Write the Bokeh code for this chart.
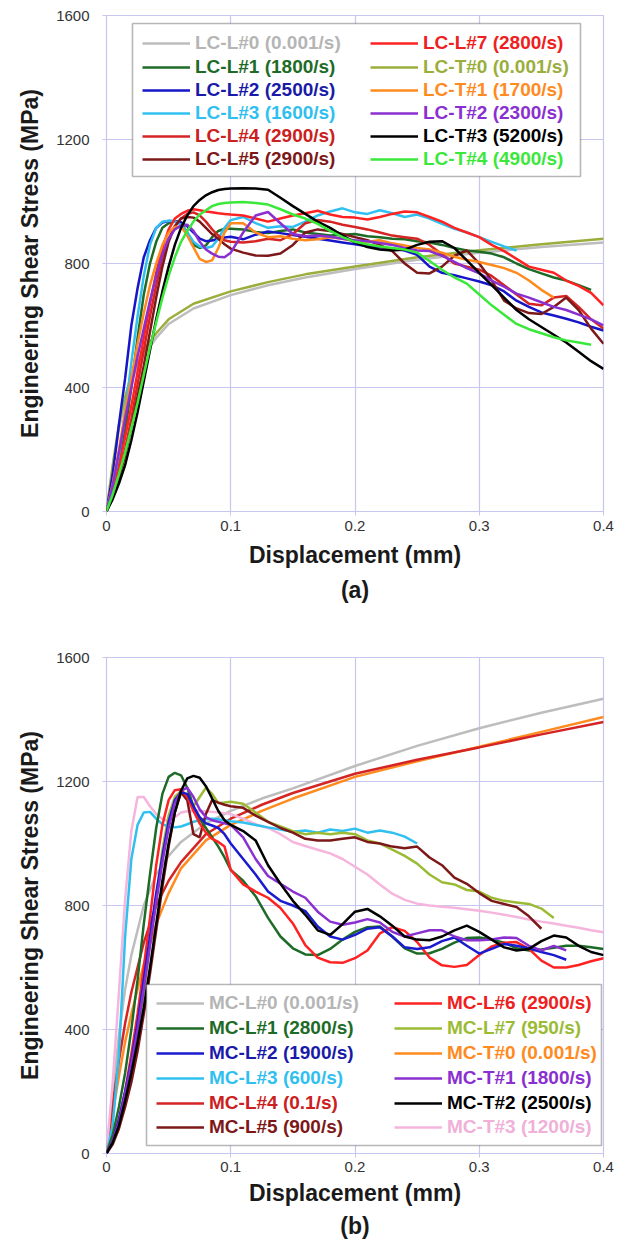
from bokeh.plotting import figure
from bokeh.layouts import column
from bokeh.models import (FixedTicker, NumeralTickFormatter, Legend, LegendItem,
                          BoxAnnotation, Title, Range1d)
from bokeh.embed import file_html
from bokeh.resources import INLINE

FONT = "Liberation Sans"

# ---------------- data ----------------
# shared displacement grid of the dynamic curves (mm)
X_DYN = [0, 0.005, 0.01, 0.015, 0.02, 0.025, 0.03, 0.035, 0.04, 0.045, 0.05, 0.055, 0.06,
         0.065, 0.07, 0.075, 0.08, 0.085, 0.09, 0.095, 0.1, 0.11, 0.12, 0.13, 0.14, 0.15,
         0.16, 0.17, 0.18, 0.19, 0.2, 0.21, 0.22, 0.23, 0.24, 0.25, 0.26, 0.27, 0.28, 0.29,
         0.3, 0.31, 0.32, 0.33, 0.34, 0.35, 0.36, 0.37, 0.38, 0.39, 0.4]
# quasi-static grids
X_QS_A = [0, 0.005, 0.01, 0.015, 0.02, 0.03, 0.04, 0.05, 0.07, 0.1, 0.13, 0.16, 0.2, 0.25, 0.3, 0.35, 0.4]
X_QS_B = [0, 0.005, 0.01, 0.015, 0.02, 0.03, 0.04, 0.05, 0.06, 0.08, 0.1, 0.125, 0.15, 0.2, 0.25, 0.3, 0.35, 0.4]

# (a) LC specimens, engineering shear stress (MPa)
LC_L0 = [0, 140, 265, 355, 425, 505, 560, 605, 655, 698, 730, 755, 782, 812, 835, 853, 868]
LC_T0 = [0, 150, 280, 370, 440, 520, 575, 620, 670, 710, 740, 765, 790, 820, 843, 862, 880]
LC_L1 = [0, 70, 160, 260, 400, 560, 700, 800, 870, 915, 930, 937, 930, 900, 860, 850, 858, 885, 905, 912, 912,
         910, 902, 898, 905, 910, 900, 895, 890, 893, 895, 888, 885, 880, 878, 872, 868, 860, 850, 842,
         838, 832, 820, 800, 782, 768, 755, 745, 730, 715]
LC_L2 = [0, 120, 280, 430, 600, 720, 820, 875, 915, 932, 937, 936, 933, 920, 900, 880, 872, 874, 880, 884, 886,
         878, 893, 903, 898, 892, 886, 880, 874, 868, 862, 856, 852, 848, 842, 828, 790, 770, 762, 752,
         742, 730, 710, 680, 660, 642, 632, 622, 610, 596, 584]
LC_L3 = [0, 80, 180, 320, 480, 630, 760, 860, 915, 935, 938, 936, 925, 900, 870, 855, 850, 855, 880, 915, 940,
         950, 930, 915, 920, 918, 935, 955, 968, 978, 965, 960, 972, 962, 950, 958, 945, 928, 912, 900,
         885, 870, 855, 842]
LC_L4 = [0, 50, 120, 200, 300, 410, 520, 630, 730, 820, 880, 920, 945, 960, 965, 955, 935, 910, 890, 875, 870,
         868, 872, 880, 875, 895, 930, 940, 935, 925, 918, 910, 900, 890, 885, 880, 860, 830, 800, 790,
         780, 760, 730, 700, 670, 665, 690, 695, 660, 620, 590]
LC_L5 = [0, 45, 110, 180, 270, 370, 470, 580, 690, 790, 870, 920, 945, 950, 948, 935, 915, 895, 880, 862, 848,
         835, 826, 825, 832, 860, 900, 910, 905, 895, 885, 875, 860, 840, 800, 770, 768, 790, 825, 842,
         800, 745, 680, 655, 640, 637, 660, 690, 650, 590, 541]
LC_L7 = [0, 60, 140, 240, 340, 450, 560, 670, 770, 850, 910, 945, 960, 970, 975, 972, 968, 965, 962, 960, 958,
         955, 945, 935, 945, 955, 962, 970, 958, 950, 948, 942, 950, 960, 968, 965, 950, 935, 915, 900,
         885, 860, 840, 815, 790, 780, 770, 745, 728, 705, 665]
LC_T1 = [0, 90, 200, 320, 430, 540, 640, 730, 800, 860, 900, 918, 920, 890, 852, 815, 805, 810, 850, 900, 930,
         930, 900, 885, 888, 880, 875, 878, 885, 880, 872, 870, 875, 865, 858, 850, 845, 835, 822, 812,
         805, 795, 785, 770, 745, 715, 690]
LC_T2 = [0, 85, 190, 300, 400, 500, 590, 680, 760, 830, 880, 910, 922, 925, 905, 870, 845, 832, 822, 820, 835,
         900, 955, 966, 930, 895, 888, 890, 886, 880, 875, 872, 866, 860, 850, 842, 840, 825, 805, 785,
         768, 745, 725, 703, 690, 675, 660, 650, 635, 620, 600]
LC_T3 = [0, 40, 90, 150, 230, 320, 420, 520, 620, 710, 790, 860, 915, 955, 985, 1005, 1020, 1030, 1037, 1040, 1042,
         1043, 1042, 1038, 1012, 985, 960, 935, 915, 890, 868, 853, 845, 842, 845, 860, 870, 872, 850, 810,
         770, 730, 690, 650, 620, 595, 570, 545, 515, 485, 460]
LC_T4 = [0, 55, 120, 190, 270, 350, 440, 530, 610, 690, 760, 820, 870, 905, 935, 958, 972, 985, 992, 995, 997,
         998, 995, 990, 975, 958, 945, 928, 905, 885, 870, 862, 855, 850, 845, 835, 808, 780, 755, 735,
         700, 665, 635, 605, 588, 575, 562, 552, 545, 538]

# (b) MC specimens, engineering shear stress (MPa)
MC_L0 = [0, 200, 380, 530, 640, 800, 900, 960, 1005, 1065, 1105, 1145, 1178, 1250, 1315, 1372, 1422, 1467]
MC_L4 = [0, 160, 300, 420, 520, 680, 800, 880, 940, 1030, 1080, 1125, 1163, 1225, 1270, 1310, 1352, 1392]
MC_T0 = [0, 130, 250, 360, 450, 610, 740, 840, 920, 1010, 1060, 1105, 1145, 1215, 1265, 1312, 1360, 1408]
MC_L1 = [0, 60, 150, 260, 400, 560, 740, 900, 1050, 1160, 1215, 1228, 1220, 1180, 1120, 1080, 1050, 1020, 990, 955, 915,
         880, 830, 760, 700, 662, 642, 640, 660, 690, 715, 730, 732, 700, 662, 645, 646, 660, 680, 695,
         697, 690, 680, 662, 655, 658, 664, 670, 670, 665, 660]
MC_L2 = [0, 40, 110, 200, 300, 420, 560, 700, 840, 960, 1070, 1140, 1165, 1160, 1120, 1085, 1065, 1058, 1050, 1030, 1000,
         950, 900, 845, 815, 800, 782, 732, 700, 690, 705, 725, 730, 700, 665, 660, 665, 685, 697, 670,
         645, 660, 676, 670, 662, 650, 640, 625]
MC_L3 = [0, 90, 320, 700, 950, 1060, 1100, 1102, 1080, 1062, 1055, 1052, 1055, 1062, 1070, 1075, 1078, 1080, 1078, 1075, 1072,
         1068, 1060, 1052, 1045, 1038, 1042, 1035, 1045, 1040, 1048, 1035, 1042, 1035, 1022, 1000]
MC_L5 = [0, 30, 80, 150, 230, 330, 450, 580, 720, 860, 990, 1100, 1165, 1140, 1030, 1020, 1095, 1140, 1132, 1125, 1120,
         1115, 1090, 1070, 1050, 1035, 1015, 1010, 1010, 1015, 1020, 1005, 1000, 990, 985, 990, 955, 930, 890, 870,
         840, 815, 805, 795, 765, 725]
MC_L6 = [0, 40, 110, 200, 320, 450, 600, 760, 930, 1060, 1140, 1172, 1175, 1150, 1105, 1065, 1035, 1015, 1005, 990, 915,
         868, 845, 825, 792, 742, 672, 632, 617, 615, 630, 655, 710, 730, 718, 682, 632, 607, 602, 608,
         640, 668, 680, 682, 660, 622, 600, 600, 608, 620, 630]
MC_L7 = [0, 40, 100, 180, 250, 380, 520, 680, 820, 980, 1090, 1150, 1170, 1150, 1120, 1150, 1180, 1160, 1130, 1132, 1135,
         1128, 1100, 1070, 1055, 1040, 1030, 1035, 1030, 1035, 1030, 1010, 1000, 980, 960, 935, 900, 875, 868, 850,
         845, 825, 815, 810, 805, 790, 760]
MC_T1 = [0, 40, 100, 190, 290, 400, 530, 670, 810, 940, 1050, 1130, 1170, 1180, 1150, 1110, 1085, 1075, 1070, 1065, 1060,
         1020, 950, 895, 870, 845, 825, 780, 748, 738, 745, 756, 745, 715, 700, 710, 720, 720, 700, 688,
         688, 690, 697, 695, 670, 655, 670, 655]
MC_T2 = [0, 35, 90, 170, 260, 360, 470, 600, 740, 880, 1000, 1100, 1170, 1210, 1218, 1212, 1185, 1145, 1105, 1075, 1060,
         1040, 1010, 930, 870, 815, 770, 720, 705, 740, 780, 789, 765, 735, 700, 690, 688, 700, 720, 735,
         715, 690, 665, 655, 660, 685, 703, 697, 670, 650, 640]
MC_T3 = [0, 230, 520, 820, 1040, 1150, 1150, 1120, 1095, 1078, 1072, 1085, 1100, 1104, 1106, 1105, 1104, 1102, 1100, 1098, 1095,
         1080, 1062, 1050, 1030, 1005, 992, 980, 968, 950, 925, 900, 868, 838, 818, 806, 800, 796, 793, 788,
         783, 777, 770, 763, 755, 748, 742, 735, 728, 720, 714]

X_TICKS = [0, 0.1, 0.2, 0.3, 0.4]
Y_TICKS = [0, 400, 800, 1200, 1600]

# label, line colour, text colour, x, y
SERIES_A = [
    ("LC-L#0 (0.001/s)", "#bdbdbd", "#b5b5b5", X_QS_A, LC_L0),
    ("LC-L#1 (1800/s)", "#1d6b27", "#1d6b27", X_DYN, LC_L1),
    ("LC-L#2 (2500/s)", "#1616c8", "#1a1aa8", X_DYN, LC_L2),
    ("LC-L#3 (1600/s)", "#30c0f0", "#30c0f0", X_DYN, LC_L3),
    ("LC-L#4 (2900/s)", "#d42424", "#cc2020", X_DYN, LC_L4),
    ("LC-L#5 (2900/s)", "#7d1818", "#7d1818", X_DYN, LC_L5),
    ("LC-L#7 (2800/s)", "#ff2222", "#ee2020", X_DYN, LC_L7),
    ("LC-T#0 (0.001/s)", "#9aae3c", "#9aae3c", X_QS_A, LC_T0),
    ("LC-T#1 (1700/s)", "#ff8a1e", "#ff8a1e", X_DYN, LC_T1),
    ("LC-T#2 (2300/s)", "#8a2fd0", "#8a2fd0", X_DYN, LC_T2),
    ("LC-T#3 (5200/s)", "#000000", "#000000", X_DYN, LC_T3),
    ("LC-T#4 (4900/s)", "#3ae83a", "#3ae83a", X_DYN, LC_T4),
]
DRAW_ORDER_A = [0, 7, 1, 2, 3, 4, 5, 6, 8, 9, 10, 11]

SERIES_B = [
    ("MC-L#0 (0.001/s)", "#bdbdbd", "#b5b5b5", X_QS_B, MC_L0),
    ("MC-L#1 (2800/s)", "#1d6b27", "#1d6b27", X_DYN, MC_L1),
    ("MC-L#2 (1900/s)", "#1a1ad0", "#1a1aa8", X_DYN, MC_L2),
    ("MC-L#3 (600/s)", "#30c0f0", "#30c0f0", X_DYN, MC_L3),
    ("MC-L#4 (0.1/s)", "#d42424", "#cc2020", X_QS_B, MC_L4),
    ("MC-L#5 (900/s)", "#7d1818", "#7d1818", X_DYN, MC_L5),
    ("MC-L#6 (2900/s)", "#ff2222", "#ee2020", X_DYN, MC_L6),
    ("MC-L#7 (950/s)", "#9bbb35", "#9bbb35", X_DYN, MC_L7),
    ("MC-T#0 (0.001/s)", "#ff8a1e", "#ff8a1e", X_QS_B, MC_T0),
    ("MC-T#1 (1800/s)", "#8a2fd0", "#8a2fd0", X_DYN, MC_T1),
    ("MC-T#2 (2500/s)", "#000000", "#000000", X_DYN, MC_T2),
    ("MC-T#3 (1200/s)", "#f5b5dc", "#f0b0d8", X_DYN, MC_T3),
]
DRAW_ORDER_B = [0, 8, 4, 11, 3, 7, 5, 1, 6, 2, 9, 10]

GRID = "#c6c6ee"


def make_panel(series, order, tag, height, bottom_border, rows_vy, cols_vx, box,
               tick_standoff, label_standoff, tag_standoff):
    p = figure(width=625, height=height, output_backend="svg", toolbar_location=None,
               x_range=Range1d(0, 0.4), y_range=Range1d(0, 1600),
               min_border_left=106, min_border_right=22, min_border_top=15,
               min_border_bottom=bottom_border)
    p.background_fill_color = "white"
    p.border_fill_color = "white"
    p.outline_line_color = GRID
    p.outline_line_width = 1.2

    p.xaxis.ticker = FixedTicker(ticks=X_TICKS)
    p.yaxis.ticker = FixedTicker(ticks=Y_TICKS)
    p.xaxis.formatter = NumeralTickFormatter(format="0.[0]")
    p.yaxis.formatter = NumeralTickFormatter(format="0")
    p.xgrid.ticker = FixedTicker(ticks=X_TICKS)
    p.ygrid.ticker = FixedTicker(ticks=Y_TICKS)
    p.grid.grid_line_color = GRID
    p.grid.grid_line_width = 1.2
    for ax in (p.xaxis, p.yaxis):
        ax.axis_line_color = None
        ax.major_tick_line_color = GRID
        ax.major_tick_in = 0
        ax.major_tick_out = 4
        ax.minor_tick_line_color = None
        ax.major_label_text_font = FONT
        ax.major_label_text_font_size = "15px"
        ax.major_label_text_color = "#333333"
        ax.axis_label_text_font = FONT
        ax.axis_label_text_font_size = "23px"
        ax.axis_label_text_font_style = "bold"
        ax.axis_label_text_color = "#1a1a1a"
    p.xaxis.axis_label = "Displacement (mm)"
    p.yaxis.axis_label = "Engineering Shear Stress (MPa)"
    p.xaxis.major_label_standoff = tick_standoff
    p.yaxis.major_label_standoff = 13
    p.xaxis.axis_label_standoff = label_standoff
    p.yaxis.axis_label_standoff = 10

    renderers = {}
    for i in order:
        lab, col, tcol, xs, ys = series[i]
        renderers[i] = p.line(xs[:len(ys)], ys, line_color=col, line_width=2.5)

    left, right, top, bottom = box
    p.add_layout(BoxAnnotation(left=left, right=right, top=top, bottom=bottom,
                               left_units="screen", right_units="screen",
                               top_units="screen", bottom_units="screen",
                               fill_color="white", fill_alpha=1.0,
                               line_color="#111111", line_width=1.6))
    for i, (lab, col, tcol, xs, ys) in enumerate(series):
        leg = Legend(items=[LegendItem(label=lab, renderers=[renderers[i]])],
                     location=(cols_vx[i // 6], rows_vy[i % 6]),
                     padding=0, margin=0, spacing=0,
                     border_line_alpha=0, background_fill_alpha=0,
                     glyph_width=48, glyph_height=20, label_height=20,
                     label_standoff=5,
                     label_text_font=FONT, label_text_font_size="19px",
                     label_text_font_style="bold", label_text_color=tcol)
        p.add_layout(leg)

    p.add_layout(Title(text=tag, align="center", text_font=FONT, text_font_size="23px",
                       text_font_style="bold", text_color="#1a1a1a",
                       standoff=tag_standoff), "below")
    return p


p1 = make_panel(SERIES_A, DRAW_ORDER_A, "(a)", 642, 131,
                [457, 433.5, 410.5, 387.5, 364.5, 341], [36, 264],
                (26, 474, 488, 335), 5, 8, 8)
p2 = make_panel(SERIES_B, DRAW_ORDER_B, "(b)", 605, 94,
                [139, 114, 89, 64, 39, 15], [50, 288],
                (40, 495, 169, 8), 4, 5, 4)

layout = column(p1, p2, spacing=0)
open("out.html", "w").write(file_html(layout, INLINE))
